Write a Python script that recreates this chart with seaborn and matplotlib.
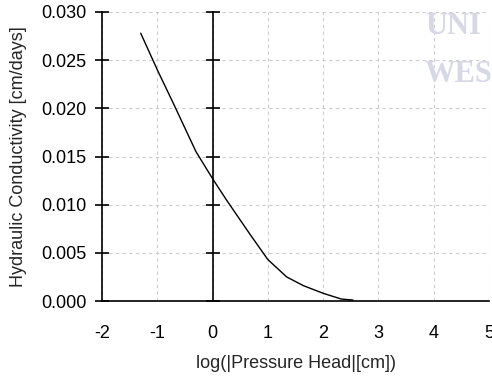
import matplotlib
matplotlib.use("Agg")
import matplotlib.pyplot as plt
import seaborn as sns
import pandas as pd

log_head = [-1.3, -1.0, -0.7, -0.3, 0.0, 0.25, 0.68, 1.0, 1.34, 1.64, 2.0, 2.33, 2.54]
conductivity = [0.0278, 0.0240, 0.0204, 0.0155, 0.0127, 0.0105, 0.0069, 0.0043, 0.0025, 0.0016, 0.0008, 0.0002, 0.0001]
x_ticks = [-2, -1, 0, 1, 2, 3, 4, 5]
y_ticks = [0.000, 0.005, 0.010, 0.015, 0.020, 0.025, 0.030]

sns.set_style("white")
plt.rcParams['font.family'] = ['Liberation Sans', 'DejaVu Sans']

fig = plt.figure(figsize=(4.92, 3.79), dpi=100)
ax = fig.add_axes([102/492, 1-301/379, 387/492, 289/379])

# watermark
for txt, yy in [("UNI", 12), ("WES", 60)]:
    fig.text(425/492, 1-yy/379, txt, family='Liberation Serif', weight='bold',
             fontsize=22, color='#d6d8e6', va='top', ha='left', zorder=0)

df = pd.DataFrame({"x": log_head, "y": conductivity})
sns.lineplot(data=df, x="x", y="y", ax=ax, color='black', lw=1.0, zorder=5)

ax.set_xlim(-2, 5)
ax.set_ylim(0, 0.030)
ax.set_xticks(x_ticks)
ax.set_yticks(y_ticks)
ax.set_xticklabels([str(v) for v in x_ticks])
ax.set_yticklabels([f"{v:.3f}" for v in y_ticks])
ax.patch.set_alpha(0)

ax.grid(True, color='#cccccc', linestyle=(0, (3, 3)), lw=0.8)
ax.set_axisbelow(True)

ax.spines['top'].set_visible(False)
ax.spines['right'].set_position(('data', 0))
for s in ['left', 'right', 'bottom']:
    ax.spines[s].set_color('black')
    ax.spines[s].set_linewidth(1.2)
ax.yaxis.set_ticks_position('both')
ax.tick_params(axis='y', direction='inout', length=10, width=1.2, colors='black',
               labelsize=13, labelright=False, pad=6)
ax.tick_params(axis='x', direction='inout', length=10, width=1.2, colors='black',
               labelsize=13, pad=12)

ax.set_xlabel("log(|Pressure Head|[cm])", fontsize=13, labelpad=10)
ax.set_ylabel("Hydraulic Conductivity [cm/days]", fontsize=13, labelpad=10)

fig.savefig("out.png", dpi=100)
